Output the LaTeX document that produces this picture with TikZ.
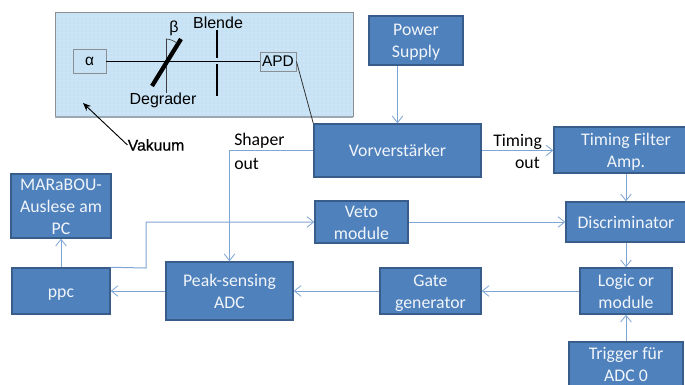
\documentclass[tikz,border=0pt]{standalone}
\usepackage{fontspec}
\setmainfont{Carlito}
\newfontfamily\panelfont{Liberation Sans}
\newfontfamily\vakfont[RawFeature={embolden=0.5}]{Liberation Sans}
\usetikzlibrary{arrows.meta,patterns,calc}
\definecolor{boxfill}{HTML}{4F81BD}
\definecolor{boxedge}{HTML}{385D8A}
\definecolor{wire}{HTML}{7FA5D5}
\definecolor{panelfill}{HTML}{C6E2F4}
\definecolor{paneledge}{HTML}{8A8F94}
\tikzset{
  blockbox/.style={draw=boxedge,fill=boxfill,line width=1.1pt,text=white!92!boxfill,inner sep=0pt,align=center,
     font=\fontsize{13.3}{16.5}\selectfont},
  wirearrow/.style={draw=wire,line width=0.75pt,-{Straight Barb[length=5pt,width=8pt,line width=0.6pt]}},
  darktext/.style={text=black,inner sep=0pt,font=\fontsize{13.3}{16}\selectfont},
  paneltext/.style={text=black,inner sep=0pt,font=\panelfont\fontsize{12}{14}\selectfont},
  smallbox/.style={draw=paneledge,line width=0.7pt,fill=panelfill,inner sep=0pt,font=\panelfont\fontsize{11.6}{14}\selectfont},
}
% box: name, left, top, right, bottom, text
\newcommand{\blockat}[6]{\node[blockbox,minimum width=#4*0.75pt-#2*0.75pt,minimum height=#5*0.75pt-#3*0.75pt] (#1) at ({(#2+#4)/2},{(#3+#5)/2}) {\rule{0pt}{12pt}#6\rule[-3pt]{0pt}{3pt}};}
\begin{document}
\begin{tikzpicture}[x=0.75pt,y=-0.75pt]
\useasboundingbox (0,0) rectangle (685,385);
\clip (0,0) rectangle (685,385);
% vacuum panel
\fill[panelfill] (55,12) rectangle (353,117);
\fill[pattern=dots,pattern color=white!55!panelfill] (55,12) rectangle (353,117);
\draw[paneledge,line width=0.6pt] (55,117) -- (55,12) -- (353,12) -- (353,117);
\draw[paneledge!70!panelfill,line width=1.1pt] (55,117) -- (353,117);
% panel contents
\node[smallbox,minimum width=24.75pt,minimum height=18pt] (alpha) at (89.5,61) {α};
\node[smallbox,minimum width=27pt,minimum height=14.25pt] (apd) at (278,61.5) {APD};
\coordinate (vtop) at (166,39);
\coordinate (vbot) at (166,93);
\coordinate (dega) at (152,86);
\coordinate (degb) at (181,39);
\coordinate (arcb) at (177,43);
\coordinate (bla) at (217,30);
\coordinate (blb) at (217,58);
\coordinate (blc) at (217,64);
\coordinate (bld) at (217,96);
\draw[black,line width=0.75pt] (alpha.east |- apd.west) -- (apd.west);
\draw[black!75,line width=0.5pt] (vtop) -- (vbot);
\draw[black,line width=3.2pt] (dega) -- (degb);
\draw[black!75,line width=0.5pt] (vtop) .. controls (170,39) and (174,41) .. (arcb);
\draw[black,line width=1.6pt] (bla) -- (blb) (blc) -- (bld);
\node[paneltext] (beta) at (174,28) {β};
\node[paneltext] (blende) at (218,23) {Blende};
\node[paneltext] (degr) at (163,100) {Degrader};
\node[paneltext,font=\vakfont\fontsize{11.8}{14}\selectfont] (vak) at (156,145) {Vakuum};
\coordinate (vakarrow) at (83,103);
\draw[black,line width=0.7pt,-{Stealth[length=6pt,width=5pt]}] (vak.west) -- (vakarrow);
% blocks
\blockat{ps}{369}{16}{463}{65}{Power\\Supply}
\blockat{vor}{314}{124}{481}{177}{Vorverstärker}
\blockat{tfa}{554}{127}{698}{173}{Timing Filter\\Amp.}
\blockat{disc}{566}{202}{686}{242}{Discriminator}
\blockat{logic}{580}{268}{672}{314}{Logic or\\module}
\blockat{trig}{569}{342}{683}{387}{Trigger für\\ADC 0}
\blockat{gate}{380}{268}{481}{314}{Gate\\generator}
\blockat{veto}{315}{202}{408}{242}{Veto\\module}
\blockat{adc}{166}{262}{293}{320}{Peak-sensing\\ADC}
\blockat{ppc}{12}{268}{110}{314}{ppc}
\blockat{mar}{11}{174}{111}{238}{MARaBOU-\\Auslese am\\PC}
% labels
\node[darktext,anchor=west] (sh1) at (234,141) {Shaper};
\node[darktext,anchor=west] (sh2) at (234,164) {out};
\node[darktext,anchor=west] (ti1) at (493,142) {Timing};
\node[darktext,anchor=east] (ti2) at (540,163) {out};
% connectors
\draw[black!80,line width=0.6pt] (apd.east) -- (vor.north west);
\draw[wirearrow] (ps.south -| vor.north) -- (vor.north);
\draw[wirearrow] (vor.west) -| (adc.north);
\draw[wirearrow] (vor.east) -- (tfa.west |- vor.east);
\draw[wirearrow] (tfa.south) -- (disc.north -| tfa.south);
\draw[wirearrow] (disc.south -| logic.north) -- (logic.north);
\draw[wirearrow] (trig.north -| logic.south) -- (logic.south);
\draw[wirearrow] (veto.east) -- (disc.west);
\draw[wirearrow] (logic.west) -- (gate.east);
\draw[wirearrow] (gate.west) -- (adc.east |- gate.west);
\draw[wirearrow] (adc.west |- ppc.east) -- (ppc.east);
\draw[wirearrow] (ppc.north -| mar.south) -- (mar.south);
\coordinate (bend) at (146,268);
\draw[wirearrow] (ppc.north east) -- (bend) |- (veto.west);
\end{tikzpicture}
\end{document}
